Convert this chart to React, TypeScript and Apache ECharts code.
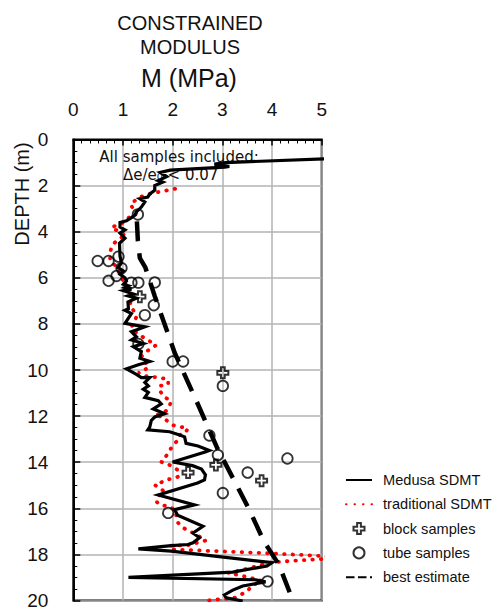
import React, { useEffect, useRef } from "react";
import * as echarts from "echarts";

// ---- data (M in MPa, depth in m) ----
const medusaSDMT: [number, number][] = [
  [5.2, 0.83], [3.07, 1.0], [2.84, 1.07], [3.14, 1.17], [3.05, 1.2], [1.95, 1.33],
  [1.75, 1.43], [1.88, 1.61], [1.71, 1.78], [1.8, 1.85], [1.64, 2.0], [1.64, 2.2],
  [1.54, 2.36], [1.5, 2.5], [1.34, 2.57], [1.44, 2.71], [1.37, 2.93], [1.27, 3.14],
  [1.24, 3.28], [1.17, 3.39], [1.07, 3.53], [0.94, 3.6], [0.94, 3.8], [1.04, 3.92],
  [0.94, 4.06], [1.04, 4.28], [0.93, 4.5], [0.94, 5.06], [0.97, 5.35], [0.9, 5.56],
  [1.01, 5.71], [0.94, 5.85], [1.04, 6.0], [1.07, 6.14], [1.01, 6.28], [1.11, 6.35],
  [1.04, 6.42], [1.17, 6.49], [1.01, 6.56], [1.21, 6.7], [1.1, 6.78], [1.27, 6.88],
  [1.1, 7.05], [1.11, 7.34], [1.04, 7.41], [1.17, 7.55], [1.04, 7.98], [1.44, 8.13],
  [1.17, 8.34], [1.27, 8.56], [1.17, 8.7], [1.41, 8.85], [1.21, 8.99], [1.37, 9.2],
  [1.34, 9.49], [1.54, 9.63], [1.31, 9.77], [1.07, 9.95], [1.27, 10.19], [1.37, 10.33],
  [1.54, 10.33], [1.44, 10.54], [1.51, 10.69], [1.41, 10.83], [1.51, 10.97], [1.44, 11.19],
  [1.71, 11.33], [1.77, 11.47], [1.61, 11.69], [1.77, 11.83], [1.84, 11.9], [1.64, 12.04],
  [1.57, 12.19], [1.54, 12.47], [1.5, 12.6], [1.94, 12.68], [2.14, 12.82], [2.24, 12.9],
  [2.27, 13.18], [2.51, 13.3], [2.74, 13.49], [2.67, 13.55], [2.0, 13.99], [2.4, 14.15],
  [2.58, 14.3], [2.66, 14.55], [2.64, 14.77], [2.5, 14.9], [1.71, 15.42], [2.44, 15.85],
  [2.04, 16.06], [2.1, 16.3], [2.61, 16.78], [2.41, 17.07], [2.54, 17.28], [2.41, 17.5],
  [2.31, 17.57], [1.97, 17.62], [1.31, 17.76], [1.97, 17.86], [4.0, 18.36], [3.9, 18.5],
  [3.21, 18.77], [1.11, 19.0], [3.67, 19.1], [3.87, 19.19], [3.41, 19.37], [3.21, 19.55],
  [3.04, 19.76], [3.08, 19.88], [3.41, 20.02]
];

const traditionalSDMT: [number, number][] = [
  [2.05, 2.14], [1.88, 2.21], [1.71, 2.28], [1.54, 2.36], [1.44, 2.43], [1.34, 2.5],
  [1.15, 2.8], [1.21, 3.03], [1.27, 3.24], [1.17, 3.31], [1.07, 3.46], [1.01, 3.6],
  [0.84, 3.75], [0.77, 3.82], [0.8, 3.89], [0.91, 3.96], [1.01, 4.11], [1.07, 4.18],
  [0.97, 4.25], [0.87, 4.4], [0.81, 4.53], [0.77, 4.68], [0.74, 4.9], [0.74, 5.25],
  [0.84, 5.46], [0.94, 5.85], [1.07, 6.4], [1.14, 6.62], [1.17, 6.8], [1.14, 7.2],
  [1.21, 7.41], [1.27, 7.7], [1.21, 7.98], [1.17, 8.13], [1.24, 8.34], [1.44, 8.63],
  [1.67, 8.92], [1.47, 9.2], [1.37, 9.42], [1.41, 9.63], [1.51, 9.77], [1.47, 9.95],
  [1.31, 10.12], [1.44, 10.26], [1.74, 10.33], [1.91, 10.41], [1.91, 10.62], [1.74, 10.69],
  [1.74, 10.9], [1.84, 11.19], [1.97, 11.33], [1.94, 11.55], [1.88, 11.76], [1.77, 11.9],
  [1.64, 11.97], [1.81, 12.04], [1.88, 12.19], [2.01, 12.4], [2.17, 12.47], [2.31, 12.54],
  [2.24, 12.75], [2.14, 12.82], [2.11, 13.04], [2.01, 13.25], [1.94, 13.49], [1.88, 13.7],
  [1.77, 13.99], [1.88, 14.06], [2.01, 14.2], [2.11, 14.35], [2.11, 14.63], [2.01, 14.7],
  [1.84, 14.78], [1.74, 14.92], [1.64, 14.99], [1.74, 15.13], [1.84, 15.28], [1.74, 15.42],
  [1.67, 15.7], [1.74, 15.85], [1.94, 15.92], [2.07, 16.13], [2.07, 16.42], [2.11, 16.63],
  [2.21, 16.85], [2.34, 16.99], [2.47, 17.13], [2.67, 17.4], [2.3, 17.6], [1.94, 17.62],
  [1.97, 17.78], [3.9, 17.95], [5.3, 18.1], [5.0, 18.2], [4.0, 18.34], [3.47, 18.64],
  [3.12, 18.8], [3.5, 18.98], [3.8, 19.15], [3.6, 19.35], [3.5, 19.6], [3.25, 19.88],
  [2.7, 20.0]
];

const blockSamples: [number, number][] = [
  [1.34, 6.82], [3.01, 10.12], [2.87, 14.12], [2.31, 14.45], [3.79, 14.8]
];

const tubeSamples: [number, number][] = [
  [1.3, 3.25], [0.49, 5.27], [0.71, 5.27], [0.91, 5.08], [0.97, 5.58], [0.87, 5.92],
  [0.71, 6.13], [1.17, 6.21], [1.31, 6.21], [1.64, 6.2], [1.62, 7.19], [1.44, 7.62],
  [1.31, 8.87], [2.0, 9.63], [2.21, 9.63], [3.01, 10.69], [2.74, 12.84], [2.91, 13.69],
  [4.31, 13.84], [3.51, 14.45], [3.01, 15.34], [1.91, 16.2], [3.91, 19.17]
];

const bestEstimate: [number, number][] = [
  [1.28, 3.55], [1.3, 4.4], [1.34, 5.15], [1.45, 5.55], [1.64, 6.8], [2.04, 9.25],
  [2.47, 11.3], [2.9, 13.4], [3.24, 14.8], [3.54, 16.05], [3.84, 17.45], [4.14, 18.45],
  [4.42, 20.0]
];

const xMin = 0, xMax = 5, xStep = 1;
const yMin = 0, yMax = 20, yStep = 2;

const legendNames = ["Medusa SDMT", "traditional SDMT", "block samples", "tube samples", "best estimate"];
const titleLines = ["CONSTRAINED", "MODULUS"];
const xAxisTitle = "M (MPa)";
const yAxisTitle = "DEPTH (m)";
const noteLines = ["All samples included:", "Δe/e₀ < 0.07"];

const PLUS = "path://M3.3,0H6.7V3.3H10V6.7H6.7V10H3.3V6.7H0V3.3H3.3Z";
const SANS = "'Liberation Sans', Arial, sans-serif";
const HIDDEN_SYMBOL = { color: "rgba(0,0,0,0)", borderColor: "rgba(0,0,0,0)", borderWidth: 0, opacity: 0 };

export default function App() {
  const ref = useRef<HTMLDivElement>(null);
  useEffect(() => {
    if (!ref.current) return;
    const chart = echarts.init(ref.current, undefined, { renderer: "svg" });
    const option: any = {
      animation: false,
      backgroundColor: "#ffffff",
      grid: {
        left: 73.3, right: 172.3, top: 139.5, bottom: 5,
        show: true, borderColor: "#000", borderWidth: 2, backgroundColor: "transparent",
      },
      xAxis: {
        type: "value", position: "top", min: xMin, max: xMax, interval: xStep,
        axisLine: { show: true, lineStyle: { color: "#000", width: 2 } },
        axisTick: { show: true, inside: true, length: 6, lineStyle: { color: "#000", width: 1.5 } },
        minorTick: { show: true, splitNumber: 6, length: 4, lineStyle: { color: "#000", width: 1 } },
        axisLabel: { fontFamily: SANS, fontSize: 19, color: "#111", margin: 21 },
        splitLine: { show: true, lineStyle: { color: "#b3b3b3", width: 1.5 } },
      },
      yAxis: {
        type: "value", inverse: true, min: yMin, max: yMax, interval: yStep,
        axisLine: { show: true, lineStyle: { color: "#000", width: 2 } },
        axisTick: { show: true, inside: true, length: 7, lineStyle: { color: "#000", width: 1.5 } },
        minorTick: { show: true, splitNumber: 4, length: 4, lineStyle: { color: "#000", width: 1 } },
        axisLabel: { fontFamily: SANS, fontSize: 19, color: "#111", margin: 25 },
        splitLine: { show: true, lineStyle: { color: "#b3b3b3", width: 1.5 } },
      },
      legend: {
        orient: "vertical", left: 345, top: 472.5, padding: 0,
        itemWidth: 26, itemHeight: 11, itemGap: 9.3,
        selectedMode: false,
        textStyle: { fontFamily: SANS, fontSize: 14.6, color: "#111", lineHeight: 15, padding: [0, 0, 0, 6] },
        data: [
          { name: legendNames[0], itemStyle: HIDDEN_SYMBOL },
          { name: legendNames[1], itemStyle: HIDDEN_SYMBOL },
          { name: legendNames[2] },
          { name: legendNames[3] },
          { name: legendNames[4], itemStyle: HIDDEN_SYMBOL, lineStyle: { type: [8.5, 3.5] } },
        ],
      },
      graphic: [
        { type: "text", x: 190, y: 23, style: { text: titleLines[0], fill: "#111", font: `20px ${SANS}`, textAlign: "center", textVerticalAlign: "middle" } },
        { type: "text", x: 190, y: 46.5, style: { text: titleLines[1], fill: "#111", font: `20px ${SANS}`, textAlign: "center", textVerticalAlign: "middle" } },
        { type: "text", x: 189, y: 78, style: { text: xAxisTitle, fill: "#111", font: `25px ${SANS}`, textAlign: "center", textVerticalAlign: "middle" } },
        { type: "text", x: 22, y: 194, rotation: Math.PI / 2, style: { text: yAxisTitle, fill: "#111", font: `20px ${SANS}`, textAlign: "center", textVerticalAlign: "middle" } },
        { type: "text", x: 179, y: 157, z: 1, style: { text: noteLines[0], fill: "#111", font: "15px 'DejaVu Sans', sans-serif", textAlign: "center", textVerticalAlign: "middle" } },
        { type: "text", x: 123, y: 175, z: 1, style: { text: noteLines[1], fill: "#111", font: "15px 'DejaVu Sans', sans-serif", textAlign: "left", textVerticalAlign: "middle" } },
      ],
      series: [
        {
          name: legendNames[0], type: "line", data: medusaSDMT, symbol: "none", z: 4,
          lineStyle: { color: "#000", width: 3.2, join: "miter" }, itemStyle: { color: "#000" },
        },
        {
          name: legendNames[1], type: "line", data: traditionalSDMT, symbol: "none", z: 3,
          lineStyle: { color: "#ff0000", width: 3.8, type: [0.5, 8], cap: "round" }, itemStyle: { color: "#ff0000" },
        },
        {
          name: legendNames[2], type: "scatter", data: blockSamples, symbol: PLUS, symbolSize: 11, z: 5,
          itemStyle: { color: "rgba(255,255,255,0)", borderColor: "#000", borderWidth: 2 },
        },
        {
          name: legendNames[3], type: "scatter", data: tubeSamples, symbol: "circle", symbolSize: 10.5, z: 5,
          itemStyle: { color: "rgba(255,255,255,0)", borderColor: "#000", borderWidth: 1.8 },
        },
        {
          name: legendNames[4], type: "line", data: bestEstimate, symbol: "none", z: 4,
          lineStyle: { color: "#000", width: 4.5, type: [20, 12] }, itemStyle: { color: "#000" },
        },
      ],
    };
    chart.setOption(option);
    return () => chart.dispose();
  }, []);
  return <div ref={ref} style={{ position: "absolute", left: 0, top: 0, width: 494, height: 610 }} />;
}
